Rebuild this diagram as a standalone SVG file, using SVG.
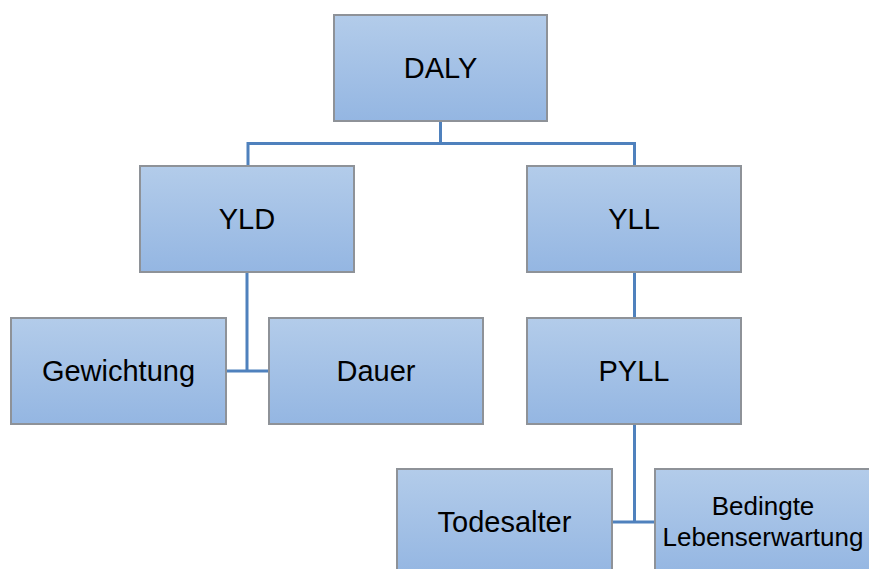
<svg xmlns="http://www.w3.org/2000/svg" width="869" height="569" viewBox="0 0 869 569">
<defs>
<linearGradient id="g" x1="0" y1="0" x2="0" y2="1">
<stop offset="0" stop-color="#B3CCEA"/>
<stop offset="1" stop-color="#94B6E2"/>
</linearGradient>
</defs>
<style>
.box{fill:url(#g);stroke:#8E9298;stroke-width:2}
.lbl{font-family:"Liberation Sans",Arial,sans-serif;font-size:29px;fill:#000;text-anchor:middle}
.sm{font-size:26px}
.con{fill:none;stroke:#4F81BD;stroke-width:3}
</style>
<rect width="869" height="569" fill="#fff"/>
<g id="connectors">
<path class="con" d="M440.5 121V143.5M248 165V143.5H634.5V165"/>
<path class="con" d="M247 272V371M226 371H269"/>
<path class="con" d="M634.5 272V317"/>
<path class="con" d="M634.5 424V522M612 522H655"/>
</g>
<g id="daly"><rect class="box" x="334" y="15" width="213" height="106"/><text class="lbl" x="440.5" y="78">DALY</text></g>
<g id="yld"><rect class="box" x="140" y="166" width="214" height="106"/><text class="lbl" x="247" y="229">YLD</text></g>
<g id="yll"><rect class="box" x="527" y="166" width="214" height="106"/><text class="lbl" x="634" y="229">YLL</text></g>
<g id="gewichtung"><rect class="box" x="11" y="318" width="215" height="106"/><text class="lbl" x="118.5" y="381">Gewichtung</text></g>
<g id="dauer"><rect class="box" x="269" y="318" width="214" height="106"/><text class="lbl" x="376" y="381">Dauer</text></g>
<g id="pyll"><rect class="box" x="527" y="318" width="214" height="106"/><text class="lbl" x="634" y="381">PYLL</text></g>
<g id="todesalter"><rect class="box" x="397" y="469" width="215" height="106"/><text class="lbl" x="504.5" y="532">Todesalter</text></g>
<g id="bedingte"><rect class="box" x="655" y="469" width="220" height="106"/><text class="lbl sm" x="763" y="515">Bedingte</text><text class="lbl sm" x="763" y="546">Lebenserwartung</text></g>
</svg>
